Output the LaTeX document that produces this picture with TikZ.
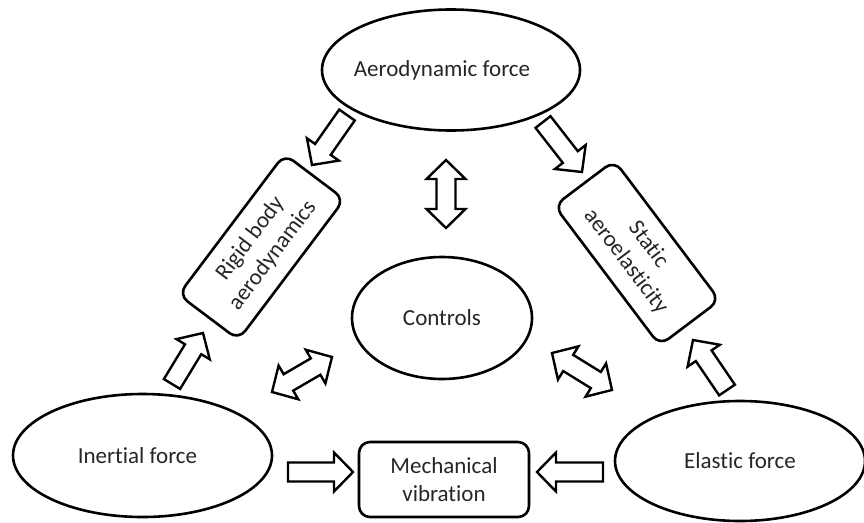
\documentclass[tikz,border=0pt]{standalone}
\usepackage{fontspec}
\setmainfont{Carlito}[Ligatures=NoCommon]
\usetikzlibrary{shapes.geometric}
\newcommand\arrowends[2]{%
  \path (#1); \pgfgetlastxy{\arax}{\aray}%
  \path (#2); \pgfgetlastxy{\arbx}{\arby}%
  \pgfmathsetmacro\ardx{\arbx-\arax}%
  \pgfmathsetmacro\ardy{\arby-\aray}%
  \pgfmathsetmacro\arlen{veclen(\ardx,\ardy)}%
  \pgfmathsetmacro\arang{atan2(\ardy,\ardx)}%
}
% single hollow block arrow from #1 to #2
\newcommand\blkarrow[2]{%
  \arrowends{#1}{#2}%
  \draw[blockline, shift={(#1)}, rotate=\arang]
    (0,-9.5) -- (\arlen-19,-9.5) -- (\arlen-19,-19.5) -- (\arlen,0)
    -- (\arlen-19,19.5) -- (\arlen-19,9.5) -- (0,9.5) -- cycle;
}
% double hollow block arrow between #1 and #2
\newcommand\dblkarrow[2]{%
  \arrowends{#1}{#2}%
  \draw[blockline, shift={(#1)}, rotate=\arang]
    (0,0) -- (19,-19.5) -- (19,-9.5) -- (\arlen-19,-9.5) -- (\arlen-19,-19.5)
    -- (\arlen,0) -- (\arlen-19,19.5) -- (\arlen-19,9.5) -- (19,9.5)
    -- (19,19.5) -- cycle;
}
\definecolor{txt}{HTML}{262626}
\begin{document}
\begin{tikzpicture}[x=1pt,y=-1pt,
  every node/.style={font=\fontsize{23}{28}\selectfont, text=txt},
  oval/.style={draw, line width=2.6pt, ellipse, inner sep=0pt},
  rbox/.style={draw, line width=2.6pt, rounded corners=11pt, inner sep=0pt, align=center},
  blockline/.style={line width=2.4pt, fill=white, line join=miter}]
\useasboundingbox (0,0) rectangle (864,522);

% main nodes
\node[oval, minimum width=258pt, minimum height=121pt] (aero) at (451,70) {\hspace*{-18pt}Aerodynamic force};
\node[oval, minimum width=180pt, minimum height=122pt] (ctrl) at (442,318) {Controls};
\node[oval, minimum width=259pt, minimum height=123pt] (inert) at (142.5,455.5) {\hspace*{-10pt}Inertial force};
\node[oval, minimum width=250pt, minimum height=120pt] (elast) at (740,461) {Elastic force};
\node[rbox, minimum width=170pt, minimum height=75pt] (mech) at (444,479.5) {Mechanical\\vibration};
\node[rbox, minimum width=176pt, minimum height=75pt, rotate=53] (rigid) at (261.5,247) {Rigid body\\aerodynamics};
\node[rbox, minimum width=175pt, minimum height=75pt, rotate=-53] (static) at (637,253) {Static\\aeroelasticity};

% arrow end points
\coordinate (a1s) at (347,115); \coordinate (a1e) at (312,165);
\coordinate (a2s) at (543,122); \coordinate (a2e) at (582,172);
\coordinate (a3s) at (172,384); \coordinate (a3e) at (203,333);
\coordinate (a4s) at (727,390); \coordinate (a4e) at (693,340);
\coordinate (a5s) at (288,472); \coordinate (a5e) at (353,472);
\coordinate (a6s) at (603,472); \coordinate (a6e) at (537,472);
\coordinate (d1s) at (446,160); \coordinate (d1e) at (446,228);
\coordinate (d2s) at (272,392); \coordinate (d2e) at (332,357);
\coordinate (d3s) at (552,353); \coordinate (d3e) at (612,390);

\blkarrow{a1s}{a1e}
\blkarrow{a2s}{a2e}
\blkarrow{a3s}{a3e}
\blkarrow{a4s}{a4e}
\blkarrow{a5s}{a5e}
\blkarrow{a6s}{a6e}
\dblkarrow{d1s}{d1e}
\dblkarrow{d2s}{d2e}
\dblkarrow{d3s}{d3e}
\end{tikzpicture}
\end{document}
